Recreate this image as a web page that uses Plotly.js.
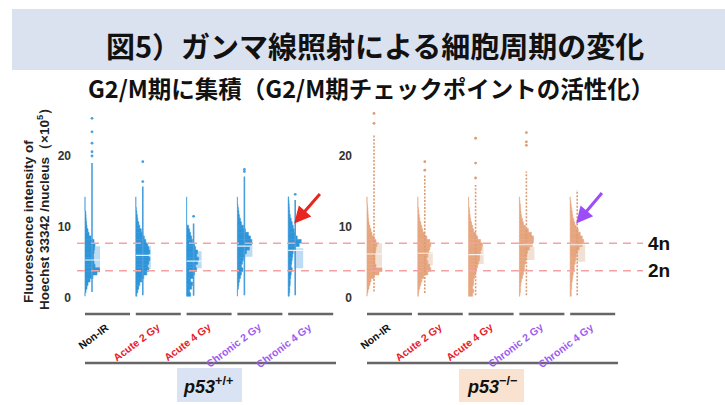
<!DOCTYPE html>
<html>
<head>
<meta charset="utf-8">
<script src="https://cdn.plot.ly/plotly-3.0.1.min.js"></script>
<style>html,body{margin:0;padding:0;background:#fff;}#chart{width:725px;height:405px;}</style>
</head>
<body>
<div id="chart"></div>
<script>
// ---------------- DATA ----------------
const titleText = '図5）ガンマ線照射による細胞周期の変化';
const subtitleText = 'G2/M期に集積（G2/M期チェックポイントの活性化）';
const yTitleLines = ['Fluorescence intensity of', 'Hoechst 33342 /nucleus（×10<sup>5</sup>）'];
const categories = ['Non-IR', 'Acute 2 Gy', 'Acute 4 Gy', 'Chronic 2 Gy', 'Chronic 4 Gy'];
const categoryColors = ['#111111', '#e8202a', '#e8202a', '#9b5cf0', '#9b5cf0'];
const yTicks = [0, 10, 20];
const ploidyValues = [3.85, 7.7];
const ploidyLabels = ['2n', '4n'];

// intensity bins (×10^5)
const bins = [0.5, 1.0, 1.5, 2.0, 2.5, 3.0, 3.5, 4.0, 4.5, 5.0, 5.5, 6.0, 6.5, 7.0,
              7.5, 8.0, 8.5, 9.0, 9.5, 10.0, 10.5, 11.0, 11.5, 12.0, 12.5, 13.0, 13.5, 14.0];

// relative density per bin, p53+/+
const wtNonIR     = [0, 1, 2, 3, 5, 8, 12, 14.5, 10, 9, 8.5, 8.5, 9, 9.5, 10, 9, 6, 4, 3, 2, 1.5, 1.2, 1, 0.8, 0, 0, 0, 0];
const wtAcute2    = [1, 2, 3, 4, 6, 8, 11, 13, 12, 13, 14, 13, 14, 13, 12, 10, 8.5, 7, 5.5, 4, 3, 2, 1.5, 1, 0.5, 0, 0, 0];
const wtAcute4    = [4, 3, 5, 6, 4, 7, 8, 10, 9, 11, 12, 10, 11, 9, 8, 6, 5, 4, 3, 2, 0, 0, 0, 0, 0, 0, 0, 0];
const wtChronic2  = [0, 0, 1, 1.5, 2, 3, 4, 5.5, 4, 5, 6, 7, 9, 12, 14, 14.5, 13, 11, 8, 6, 4, 3, 2, 1.5, 1, 0.5, 0, 0];
const wtChronic4  = [1, 1.5, 1.5, 2, 2, 2.5, 3, 4, 3, 3.5, 4, 4.5, 5, 7, 11, 13, 9, 7, 6, 5, 4, 3, 2, 1.5, 1.2, 1, 0.8, 0.5];
// relative density per bin, p53-/-
const koNonIR     = [0, 1, 2, 3, 4, 7, 12, 15, 9, 8, 8, 8, 8.5, 9, 10, 9, 7, 5, 4, 3, 2, 1.5, 1.2, 1, 0.8, 0.5, 0, 0];
const koAcute2    = [0.5, 1, 2, 3, 4, 6, 10, 13, 12, 10, 9, 10, 11, 12, 13, 12, 9, 7, 5, 4, 3, 2, 1.5, 1, 0.8, 0, 0, 0];
const koAcute4    = [4, 5, 4, 5, 5, 6, 7, 8, 9, 10, 11, 11, 12, 13, 14, 12, 9, 7, 5, 4, 3, 2, 1.5, 1, 0.8, 0, 0, 0];
const koChronic2  = [0.5, 1, 1, 1.5, 2, 3, 4, 5, 5, 6, 6.5, 7, 8, 10, 13, 14, 14, 12, 9, 6, 4, 3, 2, 1.5, 1.2, 1, 0.5, 0];
const koChronic4  = [1, 1, 1.5, 1.5, 2, 2.5, 3, 4, 4, 5, 5.5, 6, 7, 9, 12, 13.5, 12, 10, 8, 6, 4.5, 3.5, 2.5, 2, 1.5, 1, 0.5, 0];

// quartiles / medians
const wtQ1 = [3.6, 4.1, 4.2, 5.8, 4.2];
const wtQ3 = [7.3, 7.3, 6.6, 7.6, 7.0];
const wtMedian = [5.35, 6.0, 5.2, 7.3, 6.7];
const koQ1 = [4.4, 4.6, 4.8, 5.35, 5.1];
const koQ3 = [7.7, 6.5, 7.2, 7.2, 7.7];
const koMedian = [6.2, 6.3, 6.1, 7.5, 7.5];

// individual-point strip: dense range and sparse high points
const wtMin = [0.85, 0.4, 0.3, 0.4, 0.4];
const wtDenseMax = [19.0, 15.7, 10.5, 17.1, 13.8];
const wtOutliers = [[20.0, 20.6, 21.8, 23.4, 25.3], [16.4, 19.2], [11.5], [17.8, 18.1], [14.6]];
const koMin = [0.9, 0.7, 0.4, 0.4, 0.4];
const koDenseMax = [23.0, 17.3, 15.9, 17.8, 15.2];
const koOutliers = [[24.6, 26.0], [18.0, 19.2], [16.9, 19.0, 22.5], [21.5, 22.0, 23.3], []];

// arrows (category index, intensity at head)
const arrowTargets = [{cat: 4, y: 10.5}];

// ---------------- BUILD ----------------
const W = 725, H = 405;
const px = x => x / W;
const py = y => (H - y) / H;
const UNIT = 50.8;              // px per category step
const DENS = 1 / UNIT;          // density -> x units
const BIN = 0.5;
const STRIP_OFF = 7 / UNIT;
const BOX_X0 = 6 / UNIT, BOX_X1 = 15 / UNIT;
const XRANGE = [-9 / UNIT, 261 / UNIT];
const YRANGE = [-0.5, 26.5];
const YDOM = [py(301.55), py(109.85)];

const BLUE = '#2f95d9', BLUE_LIGHT = '#bddbf3', BLUE_STRIP = '#4b9fdc';
const PEACH = '#e6a67f', PEACH_LIGHT = '#f1e0d4', PEACH_STRIP = '#dc9c74';
const LATIN = 'Liberation Sans, Arial, sans-serif';
const CJK = 'Noto Sans CJK JP, sans-serif';

const traces = [];
const shapes = [];
const annotations = [];

function addGroup(profiles, q1, q3, med, mins, maxs, outs, xa, ya, dark, light, stripCol, stripDash, stripW) {
  profiles.forEach((prof, i) => {
    traces.push({type: 'scatter', mode: 'lines', x: [i + STRIP_OFF, i + STRIP_OFF], y: [mins[i], maxs[i]],
      line: {color: stripCol, width: stripW, dash: stripDash}, xaxis: xa, yaxis: ya, hoverinfo: 'skip'});
    traces.push({type: 'scatter', mode: 'markers', x: outs[i].map(() => i + STRIP_OFF), y: outs[i],
      marker: {color: stripCol, size: 2.8}, xaxis: xa, yaxis: ya, hoverinfo: 'skip'});
  });
  profiles.forEach((prof, i) => {
    traces.push({type: 'bar', orientation: 'h', y: bins, x: prof.map(d => d * DENS), base: i, width: BIN,
      marker: {color: dark, line: {width: 0.6, color: dark}}, xaxis: xa, yaxis: ya, hoverinfo: 'skip'});
    shapes.push({type: 'rect', xref: xa, yref: ya, x0: i + BOX_X0, x1: i + BOX_X1, y0: q1[i], y1: q3[i],
      fillcolor: light, line: {width: 0}, layer: 'below'});
    shapes.push({type: 'line', xref: xa, yref: ya, x0: i, x1: i + BOX_X1, y0: med[i], y1: med[i],
      line: {color: 'rgba(255,255,255,0.85)', width: 1.2}, layer: 'above'});
  });
}
addGroup([wtNonIR, wtAcute2, wtAcute4, wtChronic2, wtChronic4], wtQ1, wtQ3, wtMedian, wtMin, wtDenseMax, wtOutliers,
  'x', 'y', BLUE, BLUE_LIGHT, BLUE_STRIP, 'solid', 1.6);
addGroup([koNonIR, koAcute2, koAcute4, koChronic2, koChronic4], koQ1, koQ3, koMedian, koMin, koDenseMax, koOutliers,
  'x2', 'y2', PEACH, PEACH_LIGHT, PEACH_STRIP, '2px,1.5px', 1.6);

// banner
shapes.push({type: 'rect', xref: 'paper', yref: 'paper', x0: px(12), x1: 1, y0: py(70), y1: py(9),
  fillcolor: '#dae2f0', line: {width: 0}, layer: 'below'});

// ploidy dashed lines
ploidyValues.forEach((v, k) => {
  shapes.push({type: 'line', xref: 'paper', yref: 'y', x0: px(77), x1: px(643), y0: v, y1: v,
    line: {color: '#f4a3a3', width: 1.5, dash: '8px,6px'}, layer: 'above'});
  annotations.push({xref: 'paper', yref: 'y', x: px(646), y: v, xanchor: 'left', yanchor: 'middle',
    text: '<b>' + ploidyLabels[k] + '</b>', showarrow: false,
    font: {family: LATIN, size: 19, color: '#111'}});
});

// category segments, labels, group lines
['x', 'x2'].forEach(xa => {
  categories.forEach((c, i) => {
    shapes.push({type: 'line', xref: xa, yref: 'paper', x0: i, x1: i + 45 / UNIT, y0: py(314), y1: py(314),
      line: {color: '#666', width: 2.5}});
    annotations.push({xref: xa, yref: 'paper', x: i + 29 / UNIT, y: py(318), xanchor: 'right', yanchor: 'top',
      textangle: -37, showarrow: false, text: '<b>' + c + '</b>',
      font: {family: LATIN, size: 10.5, color: categoryColors[i]}});
  });
  shapes.push({type: 'line', xref: xa, yref: 'paper', x0: 0, x1: 251 / UNIT, y0: py(363), y1: py(363),
    line: {color: '#666', width: 2.5}});
});

// group label boxes
shapes.push({type: 'rect', xref: 'paper', yref: 'paper', x0: px(177), x1: px(242), y0: py(402), y1: py(368),
  fillcolor: '#dae3f3', line: {width: 0}, layer: 'below'});
shapes.push({type: 'rect', xref: 'paper', yref: 'paper', x0: px(459), x1: px(524), y0: py(402), y1: py(369),
  fillcolor: '#fae2d0', line: {width: 0}, layer: 'below'});
annotations.push({xref: 'paper', yref: 'paper', x: px(208), y: py(385), xanchor: 'center', yanchor: 'middle',
  showarrow: false, text: '<b><i>p53</i><sup>+/+</sup></b>', font: {family: LATIN, size: 18, color: '#111'}});
annotations.push({xref: 'paper', yref: 'paper', x: px(492), y: py(385), xanchor: 'center', yanchor: 'middle',
  showarrow: false, text: '<b><i>p53</i><sup>−/−</sup></b>', font: {family: LATIN, size: 18, color: '#111'}});

// titles
annotations.push({xref: 'paper', yref: 'paper', x: px(375), y: py(45), xanchor: 'center', yanchor: 'middle',
  showarrow: false, text: '<b>' + titleText + '</b>', font: {family: CJK, size: 29, color: '#111'}});
annotations.push({xref: 'paper', yref: 'paper', x: px(371), y: py(88), xanchor: 'center', yanchor: 'middle',
  showarrow: false, text: '<b>' + subtitleText + '</b>', font: {family: CJK, size: 23.5, color: '#111'}});
// y-axis title, one annotation per line (both lines start near the bottom)
const yTitleX = [28, 43];
const yTitleY = [222, 206];
yTitleLines.forEach((t, k) => {
  annotations.push({xref: 'paper', yref: 'paper', x: px(yTitleX[k]), y: py(yTitleY[k]), xanchor: 'center', yanchor: 'middle',
    showarrow: false, textangle: -90, text: '<b>' + t + '</b>',
    font: {family: LATIN, size: 13.5, color: '#222'}});
});

// arrows
arrowTargets.forEach(a => {
  annotations.push({xref: 'x', yref: 'y', x: a.cat + 6 / UNIT, y: a.y, ax: 27, ay: -31, text: '',
    showarrow: true, arrowhead: 2, arrowsize: 1.1, arrowwidth: 3, arrowcolor: '#e8251f', standoff: 0});
  annotations.push({xref: 'x2', yref: 'y2', x: a.cat + 6 / UNIT, y: a.y, ax: 27, ay: -32, text: '',
    showarrow: true, arrowhead: 2, arrowsize: 1.1, arrowwidth: 3, arrowcolor: '#9b4dfa', standoff: 0});
});

const yaxisBase = {range: YRANGE, domain: YDOM, tickvals: yTicks, ticktext: yTicks.map(t => '<b>' + t + '</b>'),
  showgrid: false, zeroline: false, showline: false, ticks: '',
  tickfont: {family: LATIN, size: 12, color: '#333'}, fixedrange: true};
const xaxisBase = {range: XRANGE, showgrid: false, zeroline: false, showline: false, showticklabels: false, ticks: '', fixedrange: true};

const layout = {
  width: W, height: H, margin: {l: 0, r: 0, t: 0, b: 0},
  paper_bgcolor: '#fff', plot_bgcolor: 'rgba(0,0,0,0)', showlegend: false, barmode: 'overlay',
  xaxis: Object.assign({}, xaxisBase, {domain: [px(76), px(346)], anchor: 'y'}),
  xaxis2: Object.assign({}, xaxisBase, {domain: [px(358), px(628)], anchor: 'y2'}),
  yaxis: Object.assign({}, yaxisBase, {anchor: 'x', ticklabelstandoff: 4}),
  yaxis2: Object.assign({}, yaxisBase, {anchor: 'x2', ticklabelstandoff: 5}),
  shapes: shapes, annotations: annotations
};

Plotly.newPlot('chart', traces, layout, {staticPlot: true, displayModeBar: false});
</script>
</body>
</html>
